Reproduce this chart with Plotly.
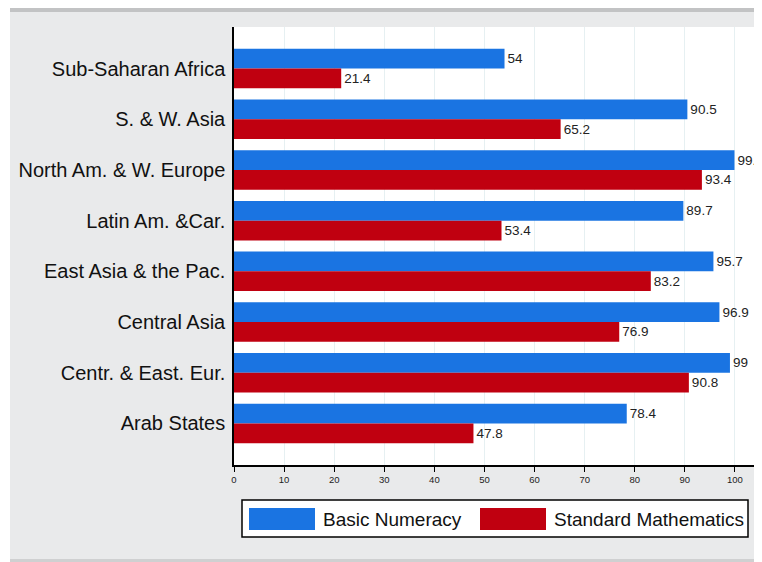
import plotly.graph_objects as go

regions = ["Sub-Saharan Africa", "S. & W. Asia", "North Am. & W. Europe", "Latin Am. &Car.",
           "East Asia & the Pac.", "Central Asia", "Centr. & East. Eur.", "Arab States"]
basic_numeracy = [54, 90.5, 99.9, 89.7, 95.7, 96.9, 99, 78.4]
standard_math = [21.4, 65.2, 93.4, 53.4, 83.2, 76.9, 90.8, 47.8]
series_names = ["Basic Numeracy", "Standard Mathematics"]
x_ticks = [0, 10, 20, 30, 40, 50, 60, 70, 80, 90, 100]

BLUE = "#1a74e2"
RED = "#c00010"
FONT = "Liberation Sans, Arial, sans-serif"

def fmt(v):
    return f"{v:g}"

fig = go.Figure()
for name, vals, col in [(series_names[0], basic_numeracy, BLUE), (series_names[1], standard_math, RED)]:
    fig.add_trace(go.Bar(
        y=regions, x=vals, name=name, orientation="h",
        marker=dict(color=col, line=dict(width=0)),
        text=[fmt(v) for v in vals], textposition="outside",
        textfont=dict(size=13.5, color="#222222", family=FONT),
        constraintext="none", cliponaxis=False, showlegend=False,
    ))

# page body adds an 8px offset, so the figure is 754x554 and margins are shifted by 8
fig.update_layout(
    width=754, height=554,
    margin=dict(l=226, r=7, t=19, b=97),
    paper_bgcolor="#e9eaeb", plot_bgcolor="white",
    barmode="group", bargap=0.22, bargroupgap=0,
    font=dict(family=FONT, color="#111111"),
    showlegend=False,
)
fig.update_xaxes(
    range=[0, 104], tickvals=x_ticks, ticktext=[str(t) for t in x_ticks],
    showgrid=True, gridcolor="#e6f0f2", gridwidth=1,
    showline=True, linecolor="black", linewidth=1.5,
    ticks="outside", ticklen=5, tickcolor="black", tickwidth=1,
    tickfont=dict(size=9.5, color="#222222"), zeroline=False,
)
fig.update_yaxes(
    type="category", categoryorder="array", categoryarray=regions,
    range=[len(regions) - 1 + 0.82, -0.82],
    showline=True, linecolor="black", linewidth=1.5,
    ticks="", tickfont=dict(size=20, color="#111111"), ticklabelstandoff=3,
    showgrid=False, zeroline=False,
)

# helpers mapping reference page pixels to paper coordinates
def py(pixel):
    return (465 - pixel) / 438
def px(pixel):
    return (pixel - 234) / 521

fig.add_shape(type="rect", xref="paper", yref="paper", x0=px(0), x1=px(770), y0=py(12), y1=py(0),
              fillcolor="#c2c3c4", line=dict(width=0), layer="below")
fig.add_shape(type="rect", xref="paper", yref="paper", x0=px(0), x1=px(10), y0=py(570), y1=py(0),
              fillcolor="white", line=dict(width=0), layer="below")
fig.add_shape(type="rect", xref="paper", yref="paper", x0=px(10), x1=px(770), y0=py(570), y1=py(559),
              fillcolor="#cfd0d1", line=dict(width=0), layer="below")

# legend box
fig.add_shape(type="rect", xref="paper", yref="paper", x0=px(242), x1=px(748), y0=py(537), y1=py(500),
              fillcolor="white", line=dict(color="black", width=1.5))
for i, (name, col) in enumerate([(series_names[0], BLUE), (series_names[1], RED)]):
    x0 = [249, 480][i]
    fig.add_shape(type="rect", xref="paper", yref="paper", x0=px(x0), x1=px(x0 + 66), y0=py(530), y1=py(508),
                  fillcolor=col, line=dict(width=0))
    fig.add_annotation(xref="paper", yref="paper", x=px(x0 + 72), y=py(520), text=name, showarrow=False,
                       xanchor="left", yanchor="middle", font=dict(size=19, color="#111111", family=FONT))

fig.write_html("out.html")
